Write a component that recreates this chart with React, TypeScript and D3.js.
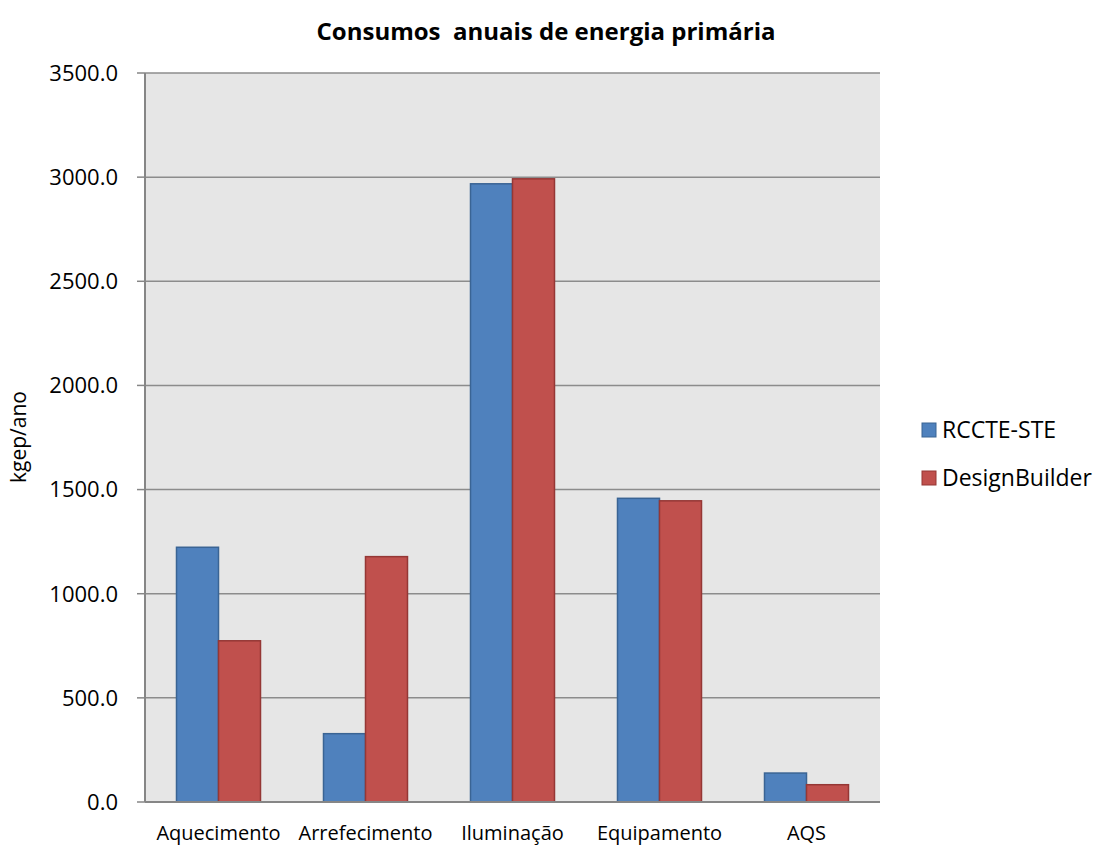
import React from "react";
import * as d3 from "d3";

const categories = ["Aquecimento", "Arrefecimento", "Iluminação", "Equipamento", "AQS"];
const seriesNames = ["RCCTE-STE", "DesignBuilder"];
const rccteValues = [1223, 328, 2968, 1458, 139];
const designBuilderValues = [774, 1178, 2992, 1446, 83];
const yTicks = [0, 500, 1000, 1500, 2000, 2500, 3000, 3500];
const seriesColors = ["#4f81bd", "#c0504d"];
const seriesStrokes = ["#3a6494", "#953735"];

const W = 1096;
const H = 846;
const left = 145;
const right = 880;
const top = 73;
const bottom = 802;

export default function App() {
  const x = d3.scaleBand<string>().domain(categories).range([left, right]).paddingInner(0.4286).paddingOuter(0.2143);
  const xs = d3.scaleBand<string>().domain(seriesNames).range([0, x.bandwidth()]).padding(0);
  const y = d3.scaleLinear().domain([0, 3500]).range([bottom, top]);
  const series = [rccteValues, designBuilderValues];
  const font = "'Open Sans', sans-serif";

  return (
    <svg width={W} height={H} style={{ position: "absolute", left: 0, top: 0, background: "#fff" }}>
      <rect x={left} y={top} width={right - left} height={bottom - top} fill="#e6e6e6" />
      {yTicks.map((t) => (
        <line key={"g" + t} x1={left} x2={right} y1={y(t)} y2={y(t)} stroke="#8c8c8c" strokeWidth={1.5} />
      ))}
      {yTicks.map((t) => (
        <line key={"t" + t} x1={left - 8} x2={left} y1={y(t)} y2={y(t)} stroke="#868686" strokeWidth={1.5} />
      ))}
      <line x1={left} x2={left} y1={top} y2={bottom} stroke="#868686" strokeWidth={2} />
      {series.map((vals, si) =>
        categories.map((c, ci) => (
          <rect
            key={si + "-" + ci}
            x={(x(c) as number) + (xs(seriesNames[si]) as number)}
            y={y(vals[ci])}
            width={xs.bandwidth()}
            height={y(0) - y(vals[ci])}
            fill={seriesColors[si]}
            stroke={seriesStrokes[si]}
            strokeWidth={1.5}
          />
        ))
      )}
      <line x1={left} x2={right} y1={bottom} y2={bottom} stroke="#868686" strokeWidth={2} />
      {yTicks.map((t) => (
        <text key={"l" + t} x={118} y={y(t)} dy="0.36em" textAnchor="end" fontFamily={font} fontSize={22} fill="#000">
          {d3.format(".1f")(t)}
        </text>
      ))}
      {categories.map((c) => (
        <text key={"c" + c} x={(x(c) as number) + x.bandwidth() / 2} y={840} textAnchor="middle" fontFamily={font} fontSize={20} fill="#000">
          {c}
        </text>
      ))}
      <text x={546} y={40} textAnchor="middle" fontFamily={font} fontWeight="bold" fontSize={24} fill="#000" style={{ whiteSpace: "pre" }}>
        {"Consumos  anuais de energia primária"}
      </text>
      <text transform="translate(26,437) rotate(-90)" textAnchor="middle" fontFamily={font} fontSize={21} fill="#000">
        kgep/ano
      </text>
      {seriesNames.map((s, i) => (
        <g key={s} transform={`translate(922, ${423 + i * 48})`}>
          <rect x={0} y={0} width={14} height={14} fill={seriesColors[i]} stroke={seriesStrokes[i]} strokeWidth={1} />
          <text x={20} y={15} fontFamily={font} fontSize={23} fill="#000">
            {s}
          </text>
        </g>
      ))}
    </svg>
  );
}
